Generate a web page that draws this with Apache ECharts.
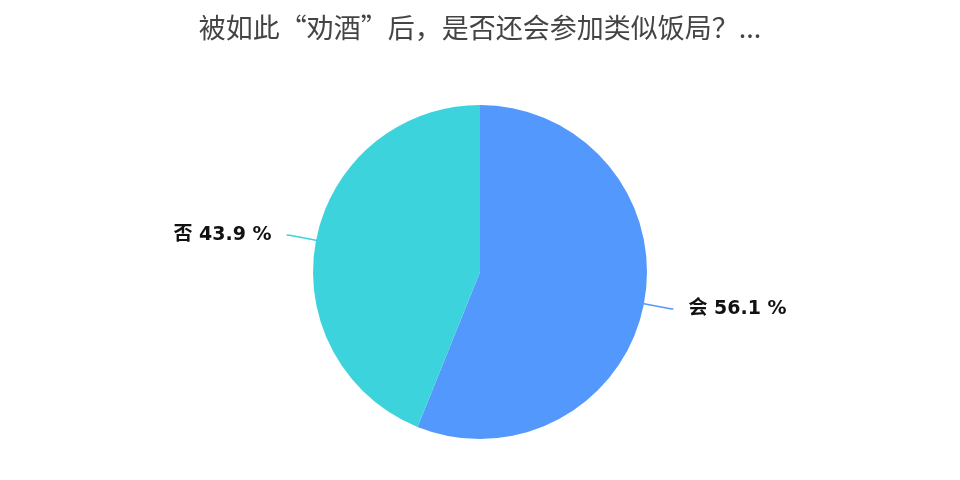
<!DOCTYPE html>
<html>
<head>
<meta charset="utf-8">
<script src="https://cdn.jsdelivr.net/npm/echarts@6/dist/echarts.min.js"></script>
<style>
  html, body { margin: 0; padding: 0; background: #fff; }
  #chart { width: 960px; height: 480px; }
</style>
</head>
<body>
<div id="chart"></div>
<script>
const titleText = '被如此“劝酒”后，是否还会参加类似饭局？...'
const categories = ['会', '否']
const values = [56.1, 43.9]
const colors = ['#5398FD', '#3DD3DD']

const chart = echarts.init(document.getElementById('chart'))
chart.setOption({
  backgroundColor: '#fff',
  animation: false,
  title: {
    text: titleText,
    left: 'center',
    top: 9,
    textStyle: {
      fontFamily: 'Noto Sans CJK SC',
      fontSize: 27,
      fontWeight: 'normal',
      color: '#444'
    }
  },
  series: [{
    type: 'pie',
    center: [480, 272],
    radius: 167,
    startAngle: 90,
    clockwise: true,
    data: categories.map((name, i) => ({
      name,
      value: values[i],
      itemStyle: { color: colors[i] }
    })),
    label: {
      formatter: p => p.name + ' ' + p.value.toFixed(1) + ' %',
      fontFamily: 'DejaVu Sans, Noto Sans CJK SC',
      fontSize: 19,
      fontWeight: 'bold',
      color: '#111',
      padding: [0, 0, 12, 0],
      distanceToLabelLine: 15
    },
    labelLine: {
      length: 27,
      length2: 3,
      smooth: true,
      lineStyle: { width: 1.5 }
    }
  }]
})
</script>
</body>
</html>
